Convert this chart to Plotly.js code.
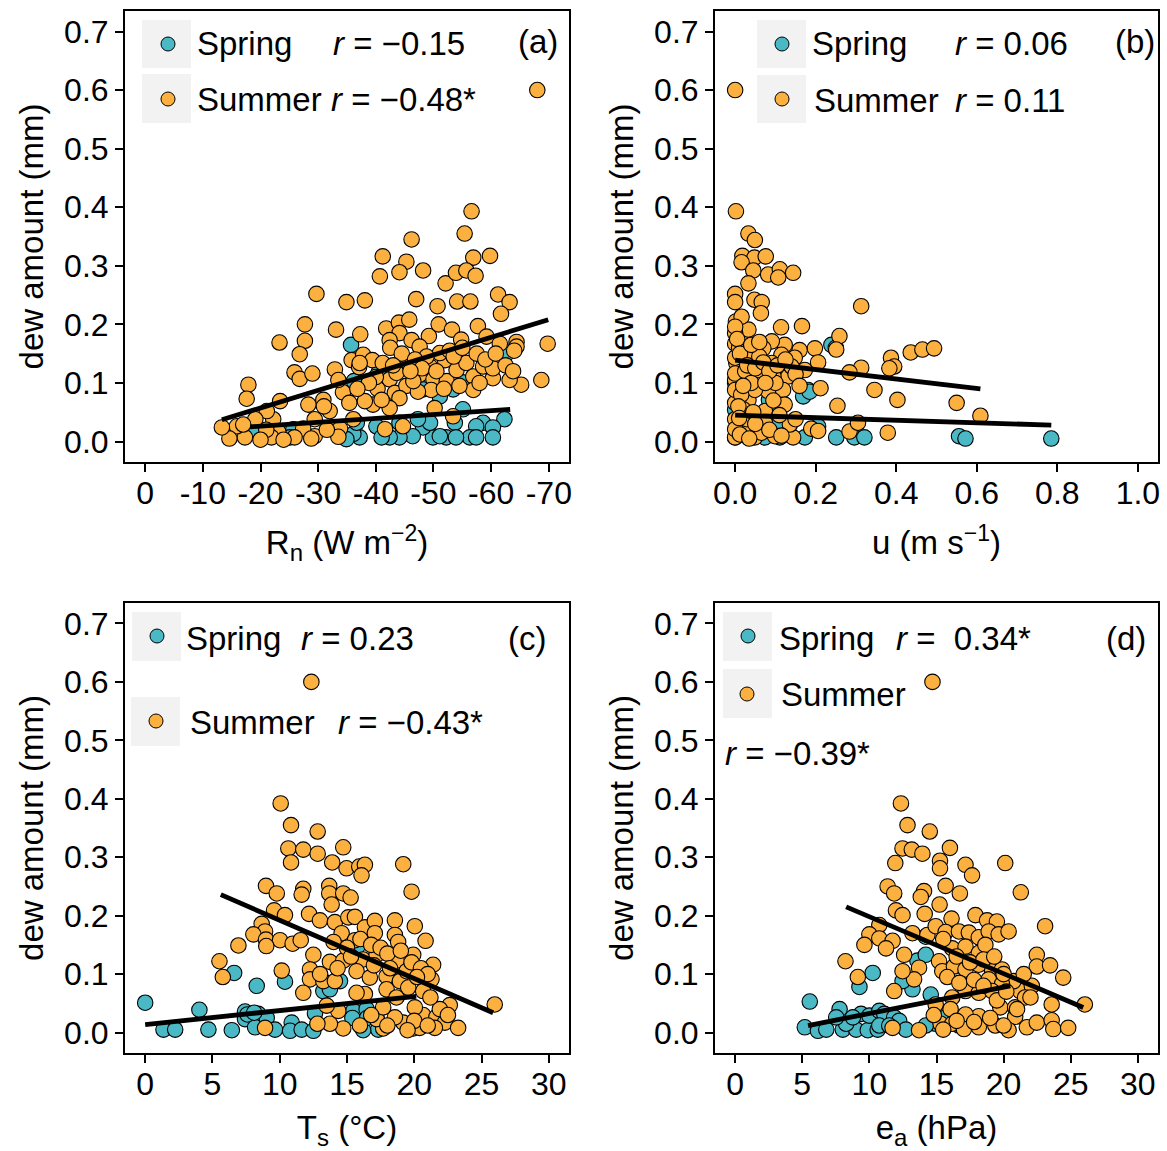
<!DOCTYPE html>
<html><head><meta charset="utf-8">
<script src="https://cdn.plot.ly/plotly-3.0.1.min.js"></script>
<style>html,body{margin:0;padding:0;background:#fff}#chart{width:1167px;height:1151px}</style>
</head><body><div id="chart"></div>
<script>
// ---------- DATA ----------
// Panel (a): net radiation Rn (W m-2) vs dew amount (mm)
const aSpringX = [-35.7,-36.2,-55.1,-53.4,-51.1,-48.2,-55.1,-58.6,-62.3,-60.3,-57.4,-53.7,-52.2,-49.9,-48.2,-46.4,-44.1,-42.4,-40.1,-37.2,-36.1,-34.9,-36.7,-56.3,-60.3,-53.9,-25.7,-25.1,-18.8,-41.0,-49.4,-47.3,-44.1,-57.4,-51.1,-62.5,-40.5];
const aSpringY = [0.165,0.103,0.101,0.089,0.077,0.089,0.055,0.032,0.038,0.024,0.026,0.032,0.007,0.007,0.024,0.009,0.007,0.007,0.026,0.007,0.013,0.004,0.032,0.007,0.007,0.007,0.021,0.007,0.021,0.007,0.032,0.038,0.032,0.007,0.009,0.148,0.118];
const aSummerX = [-56.6,-55.4,-46.2,-41.2,-45.3,-56.9,-59.8,-40.7,-44.1,-48.2,-52.1,-53.9,-55.7,-57.3,-29.7,-34.9,-38.1,-47.0,-50.7,-54.1,-56.4,-61.2,-63.2,-61.7,-27.7,-33.1,-37.3,-23.3,-27.7,-26.8,-41.8,-44.0,-45.8,-44.1,-42.4,-46.2,-49.2,-50.9,-53.2,-54.8,-57.7,-59.2,-61.5,-64.4,-64.4,-69.8,-68.7,-65.2,-63.2,-60.3,-17.9,-17.6,-23.4,-25.9,-26.8,-29.0,-32.9,-35.8,-37.8,-37.1,-39.4,-41.2,-34.3,-35.4,-40.3,-42.4,-43.3,-45.3,-47.6,-49.4,-52.0,-50.0,-52.3,-54.0,-55.7,-56.9,-58.6,-60.3,-56.9,-49.6,-47.3,-44.1,-42.4,-39.5,-38.1,-30.9,-28.3,-32.0,-29.4,-50.2,-53.4,-44.7,-41.6,-36.1,-33.8,-33.5,-29.4,-27.4,-25.9,-23.1,-22.2,-21.9,-21.1,-19.1,-17.3,-15.9,-14.6,-13.3,-17.0,-37.2,-47.6,-51.1,-48.8,-45.6,-43.6,-46.5,-41.0,-68.0,
  -42.5,-44.5,-46.8,-48.0,-50.5,-52.8,-53.5,-55.0,-57.5,-59.0,-60.8,-62.5,-63.8,-64.0,-58.0,-54.5,-51.8,-46.0,-43.0,-40.0,-38.8,-36.8,-33.5,-31.0,-21.0,-24.0,-31.5,-28.8,-20.0];
const aSummerY = [0.393,0.355,0.345,0.316,0.307,0.314,0.317,0.282,0.289,0.292,0.270,0.288,0.292,0.283,0.252,0.238,0.241,0.243,0.231,0.239,0.239,0.251,0.238,0.218,0.200,0.191,0.183,0.169,0.172,0.149,0.193,0.203,0.208,0.185,0.173,0.173,0.180,0.200,0.191,0.174,0.197,0.179,0.167,0.170,0.162,0.167,0.105,0.097,0.105,0.108,0.097,0.073,0.069,0.118,0.107,0.116,0.123,0.139,0.148,0.127,0.139,0.134,0.084,0.066,0.090,0.106,0.083,0.095,0.114,0.128,0.139,0.106,0.103,0.122,0.134,0.111,0.128,0.125,0.088,0.088,0.085,0.074,0.057,0.063,0.069,0.071,0.063,0.052,0.038,0.057,0.043,0.026,0.021,0.038,0.022,0.008,0.009,0.022,0.007,0.016,0.038,0.007,0.052,0.038,0.007,0.026,0.005,0.024,0.029,0.134,0.162,0.151,0.145,0.134,0.117,0.103,0.071,0.600,
  0.160,0.150,0.140,0.125,0.120,0.155,0.145,0.160,0.150,0.140,0.150,0.130,0.120,0.155,0.100,0.095,0.090,0.120,0.130,0.110,0.100,0.090,0.105,0.060,0.020,0.003,0.020,0.005,0.003];
const aFitSpringX = [-18.2,-63.3], aFitSpringY = [0.025,0.055];
const aFitSummerX = [-13.3,-69.9], aFitSummerY = [0.037,0.208];

// Panel (b): wind speed u (m s-1)
const bSpringX = [0.239,0.181,0.169,0.084,0.111,0.173,0.111,0.251,0.296,0.321,0.556,0.572,0.206,0.074,0.033,0.000,0.016,0.058,0.000,0.785,0.185,0.109,0.250,0.000,0.020,0.130,0.090];
const bSpringY = [0.165,0.088,0.077,0.071,0.032,0.007,0.007,0.007,0.007,0.007,0.009,0.005,0.026,0.007,0.007,0.007,0.032,0.038,0.054,0.005,0.085,0.030,0.160,0.100,0.020,0.012,0.050];
const bSummerX = [0.002,0.033,0.049,0.018,0.048,0.076,0.016,0.045,0.082,0.111,0.107,0.144,0.033,0.000,0.000,0.048,0.066,0.064,0.313,0.002,0.003,0.020,0.033,0.114,0.166,0.259,0.251,0.198,0.160,0.123,0.091,0.070,0.115,0.148,0.436,0.465,0.494,0.387,0.395,0.383,0.313,0.284,0.206,0.346,0.403,0.550,0.609,0.254,0.212,0.173,0.132,0.082,0.033,0.000,0.003,0.058,0.095,0.119,0.123,0.074,0.000,0.000,0.033,0.000,0.049,0.144,0.189,0.206,0.136,0.284,0.305,0.379,0.099,0.029,0.029,0.000,0.000,0.049,0.091,0.140,0.150,0.074,0.000,0.000,0.000,0.000,0.016,0.000,0.010,0.025,0.040,0.015,0.060,0.100,0.020,0.045,0.012,0.065,0.110,0.000,
  0.005,0.012,0.030,0.050,0.070,0.085,0.105,0.125,0.150,0.160,0.040,0.060,0.075,0.095,0.020,0.008,0.050,0.085,0.115,0.035,0.010];
const bSummerY = [0.393,0.355,0.344,0.317,0.314,0.316,0.306,0.292,0.285,0.294,0.280,0.288,0.270,0.252,0.238,0.242,0.238,0.219,0.231,0.205,0.191,0.171,0.191,0.195,0.197,0.180,0.157,0.159,0.156,0.165,0.171,0.159,0.148,0.143,0.152,0.157,0.159,0.143,0.128,0.125,0.126,0.118,0.135,0.088,0.071,0.066,0.044,0.061,0.091,0.122,0.111,0.086,0.071,0.105,0.134,0.122,0.111,0.088,0.063,0.052,0.066,0.038,0.026,0.007,0.007,0.007,0.022,0.018,0.029,0.017,0.032,0.015,0.009,0.038,0.146,0.167,0.088,0.088,0.134,0.128,0.038,0.032,0.021,0.116,0.143,0.185,0.213,0.196,0.160,0.120,0.100,0.080,0.145,0.100,0.055,0.050,0.012,0.015,0.045,0.600,
  0.175,0.150,0.130,0.125,0.135,0.120,0.130,0.140,0.115,0.095,0.165,0.170,0.100,0.070,0.095,0.060,0.030,0.020,0.010,0.005,0.040];
const bFitSpringX = [0.0,0.785], bFitSpringY = [0.045,0.028];
const bFitSummerX = [0.0,0.609], bFitSummerY = [0.139,0.090];

// Panel (c): soil temperature Ts (°C)
const cSpringX = [0.00,1.36,2.23,4.03,4.70,6.44,6.61,8.29,7.42,7.42,8.41,9.03,8.17,9.65,10.39,10.89,10.77,11.63,12.50,12.62,13.24,13.73,14.48,15.47,16.46,17.20,17.32,16.20,15.80,15.40,16.50,7.60,8.10];
const cSpringY = [0.051,0.005,0.005,0.039,0.005,0.004,0.102,0.080,0.036,0.023,0.032,0.025,0.009,0.005,0.087,0.017,0.003,0.005,0.003,0.033,0.071,0.074,0.088,0.037,0.040,0.026,0.005,0.004,0.148,0.025,0.025,0.031,0.034];
const cSummerX = [10.07,10.84,12.82,10.64,11.75,12.82,14.72,10.84,13.90,14.97,15.91,16.33,16.08,19.18,8.98,9.78,11.75,11.63,13.68,13.68,14.72,15.27,13.86,19.80,9.58,10.39,8.66,8.91,8.04,8.98,10.02,9.00,6.93,5.52,5.77,10.15,10.96,11.56,12.18,12.99,14.10,15.10,15.59,16.33,17.07,18.56,20.04,20.84,14.60,15.59,17.07,18.56,18.80,12.50,13.73,14.72,16.20,17.20,18.68,19.92,21.40,12.25,12.25,13.24,14.10,15.71,16.70,17.94,18.93,19.43,21.28,20.66,19.55,17.94,16.33,15.71,11.75,18.68,22.64,25.98,20.66,21.65,22.27,23.26,21.53,20.04,19.18,17.69,15.96,14.72,13.73,14.35,13.49,18.56,17.20,8.91,19.92,20.40,21.90,17.69,12.35,
  14.0,15.0,16.0,16.8,17.5,18.0,19.0,19.8,20.5,21.0,20.2,18.2,17.0,15.3,14.3,13.0,21.2,20.0,18.0,16.8,21.0,19.5,22.5,12.8];
const cSummerY = [0.392,0.355,0.344,0.315,0.313,0.306,0.317,0.291,0.291,0.281,0.284,0.287,0.269,0.288,0.251,0.238,0.246,0.236,0.251,0.238,0.238,0.231,0.219,0.241,0.209,0.201,0.186,0.173,0.168,0.159,0.158,0.148,0.149,0.122,0.095,0.106,0.152,0.158,0.203,0.192,0.189,0.197,0.198,0.180,0.191,0.192,0.182,0.157,0.170,0.158,0.170,0.167,0.155,0.133,0.121,0.123,0.125,0.133,0.123,0.133,0.116,0.108,0.091,0.088,0.088,0.105,0.094,0.096,0.088,0.105,0.091,0.071,0.077,0.074,0.066,0.068,0.068,0.060,0.047,0.048,0.030,0.027,0.017,0.008,0.008,0.043,0.017,0.007,0.012,0.007,0.015,0.037,0.046,0.026,0.023,0.008,0.007,0.008,0.040,0.043,0.600,
  0.155,0.145,0.160,0.150,0.145,0.135,0.140,0.120,0.110,0.100,0.095,0.110,0.115,0.130,0.110,0.100,0.060,0.020,0.012,0.030,0.012,0.004,0.030,0.015];
const cFitSpringX = [0.0,20.15], cFitSpringY = [0.0136,0.062];
const cFitSummerX = [5.62,25.86], cFitSummerY = [0.236,0.034];

// Panel (d): vapour pressure ea (hPa)
const dSpringX = [5.56,5.19,6.17,6.79,7.78,8.02,9.01,9.88,10.62,9.26,10.25,9.38,10.00,10.74,11.11,11.85,12.22,12.72,13.21,12.47,13.58,14.20,14.57,14.94,16.67,15.68,14.20,14.20,10.74,11.48,8.27,8.77,7.53];
const dSpringY = [0.053,0.009,0.003,0.005,0.040,0.005,0.005,0.004,0.005,0.078,0.102,0.032,0.029,0.037,0.032,0.026,0.020,0.005,0.074,0.088,0.123,0.133,0.065,0.015,0.012,0.026,0.164,0.012,0.012,0.012,0.015,0.026,0.026];
const dSummerX = [12.35,12.84,14.50,12.47,13.16,13.95,16.00,11.93,15.26,15.26,17.16,17.65,20.12,11.36,11.85,14.07,13.83,15.68,16.74,21.28,15.23,11.98,12.47,14.12,16.12,17.90,18.77,19.50,23.09,10.74,10.00,10.74,11.73,9.63,11.24,12.59,13.21,14.32,14.94,15.68,16.67,17.41,18.15,18.89,19.63,20.37,16.17,17.16,18.15,18.64,15.19,15.43,16.30,17.16,18.15,19.14,19.88,13.70,13.33,12.47,11.85,8.22,9.14,22.47,22.47,23.46,24.44,26.05,21.23,22.10,21.60,20.74,18.89,19.88,17.16,18.15,19.14,16.17,14.94,19.75,20.86,18.15,17.16,16.05,15.31,16.17,17.04,18.15,19.38,20.37,21.73,22.47,23.58,23.70,24.81,13.70,11.73,20.86,23.58,14.70,
  15.5,16.5,17.5,18.5,19.3,20.0,15.8,16.7,17.8,18.5,19.5,20.2,21.0,16.5,17.8,19.0,20.0,15.5,14.8,22.0,21.5];
const dSummerY = [0.392,0.355,0.344,0.315,0.313,0.306,0.316,0.290,0.294,0.281,0.287,0.269,0.290,0.250,0.238,0.242,0.232,0.251,0.238,0.240,0.219,0.209,0.201,0.203,0.195,0.201,0.192,0.190,0.182,0.184,0.168,0.161,0.157,0.150,0.144,0.133,0.170,0.167,0.182,0.172,0.173,0.171,0.163,0.173,0.168,0.173,0.144,0.147,0.136,0.150,0.122,0.105,0.113,0.108,0.116,0.105,0.108,0.111,0.091,0.105,0.071,0.122,0.095,0.133,0.113,0.115,0.094,0.048,0.071,0.080,0.060,0.088,0.091,0.083,0.071,0.068,0.071,0.060,0.048,0.043,0.027,0.028,0.031,0.040,0.015,0.015,0.006,0.009,0.012,0.004,0.009,0.017,0.021,0.006,0.008,0.004,0.008,0.043,0.048,0.600,
  0.160,0.130,0.120,0.125,0.130,0.100,0.095,0.085,0.090,0.080,0.055,0.070,0.040,0.020,0.018,0.025,0.012,0.005,0.030,0.060,0.100];
const dFitSpringX = [5.43,20.5], dFitSpringY = [0.012,0.080];
const dFitSummerX = [8.27,25.93], dFitSummerY = [0.215,0.043];

// Tick labels
const yTickVals = [0,0.1,0.2,0.3,0.4,0.5,0.6,0.7];
const aTickVals = [0,-10,-20,-30,-40,-50,-60,-70];
const aTickText = ["0","-10","-20","-30","-40","-50","-60","-70"];
const bTickVals = [0,0.2,0.4,0.6,0.8,1.0];
const cdTickVals = [0,5,10,15,20,25,30];

// Legend / annotation texts
const rTexts = {
  a: ["<i>r</i> = \u22120.15", "<i>r</i> = \u22120.48*"],
  b: ["<i>r</i> = 0.06", "<i>r</i> = 0.11"],
  c: ["<i>r</i> = 0.23", "<i>r</i> = \u22120.43*"],
  d: ["<i>r</i> =\u00a0 0.34*", "<i>r</i> = \u22120.39*"]
};

// ---------- STYLE / LAYOUT ----------
const W = 1167, H = 1151;
const SPRING = '#4BB8C5', SUMMER = '#FBB040';
const FONT = 'Liberation Sans, Arial, sans-serif';
const FS = 32, FS_TXT = 33;
const px = x => x / W, py = y => 1 - y / H;
const SUB = s => '<span style="font-size:24px;baseline-shift:-7px">' + s + '</span>';
const SUP = s => '<span style="font-size:23px;baseline-shift:13px">' + s + '</span>';

function pts(x, y, color, xa, ya) {
  return {x, y, xaxis: xa, yaxis: ya, type: 'scatter', mode: 'markers', showlegend: false, hoverinfo: 'skip',
    marker: {size: 15.5, color, line: {color: '#000', width: 1.1}}};
}
function fit(x, y, xa, ya) {
  return {x, y, xaxis: xa, yaxis: ya, type: 'scatter', mode: 'lines', showlegend: false, hoverinfo: 'skip',
    line: {color: '#000', width: 4.8}};
}
const traces = [
  pts(aSpringX, aSpringY, SPRING, 'x', 'y'), pts(aSummerX, aSummerY, SUMMER, 'x', 'y'),
  fit(aFitSpringX, aFitSpringY, 'x', 'y'), fit(aFitSummerX, aFitSummerY, 'x', 'y'),
  pts(bSpringX, bSpringY, SPRING, 'x2', 'y2'), pts(bSummerX, bSummerY, SUMMER, 'x2', 'y2'),
  fit(bFitSpringX, bFitSpringY, 'x2', 'y2'), fit(bFitSummerX, bFitSummerY, 'x2', 'y2'),
  pts(cSpringX, cSpringY, SPRING, 'x3', 'y3'), pts(cSummerX, cSummerY, SUMMER, 'x3', 'y3'),
  fit(cFitSpringX, cFitSpringY, 'x3', 'y3'), fit(cFitSummerX, cFitSummerY, 'x3', 'y3'),
  pts(dSpringX, dSpringY, SPRING, 'x4', 'y4'), pts(dSummerX, dSummerY, SUMMER, 'x4', 'y4'),
  fit(dFitSpringX, dFitSpringY, 'x4', 'y4'), fit(dFitSummerX, dFitSummerY, 'x4', 'y4')
];

function axisBase(domain, anchor, extra) {
  return Object.assign({
    domain, anchor, showline: true, mirror: true, linecolor: '#000', linewidth: 2,
    ticks: 'outside', ticklen: 8, tickwidth: 2, tickcolor: '#000',
    showgrid: false, zeroline: false, fixedrange: true,
    tickfont: {family: FONT, size: FS, color: '#000'}
  }, extra);
}
const xLeft = [px(125), px(569)], xRight = [px(715), px(1158)];
const yTop = [py(462), py(11)], yBot = [py(1053), py(603)];
const yTitle = {text: 'dew amount (mm)', font: {family: FONT, size: FS_TXT, color: '#000'}, standoff: 11};
function xt(t) { return {text: t, font: {family: FONT, size: FS_TXT, color: '#000'}, standoff: 20}; }
function yAx(domain, anchor) {
  return axisBase(domain, anchor, {range: [-0.035, 0.735], tickvals: yTickVals, tickformat: '.1f', title: yTitle});
}
function xAx(domain, anchor, extra) {
  return axisBase(domain, anchor, Object.assign({ticklabelstandoff: -6}, extra));
}

const layout = {
  width: W, height: H, margin: {l: 0, r: 0, t: 0, b: 0},
  paper_bgcolor: '#fff', plot_bgcolor: '#fff', showlegend: false,
  font: {family: FONT, color: '#000', size: FS},
  xaxis: xAx(xLeft, 'y', {range: [3.5, -73.5], tickvals: aTickVals, ticktext: aTickText, title: xt('R' + SUB('n') + ' (W m' + SUP('\u22122') + ')')}),
  yaxis: yAx(yTop, 'x'),
  xaxis2: xAx(xRight, 'y2', {range: [-0.05, 1.05], tickvals: bTickVals, tickformat: '.1f', title: xt('u (m s' + SUP('\u22121') + ')')}),
  yaxis2: yAx(yTop, 'x2'),
  xaxis3: xAx(xLeft, 'y3', {range: [-1.5, 31.5], tickvals: cdTickVals, title: xt('T' + SUB('s') + ' (\u00b0C)')}),
  yaxis3: yAx(yBot, 'x3'),
  xaxis4: xAx(xRight, 'y4', {range: [-1.5, 31.5], tickvals: cdTickVals, title: xt('e' + SUB('a') + ' (hPa)')}),
  yaxis4: yAx(yBot, 'x4'),
  shapes: [], annotations: []
};

function keyBox(x0, y0, x1, y1) {
  layout.shapes.push({type: 'rect', xref: 'paper', yref: 'paper', x0: px(x0), x1: px(x1), y0: py(y1), y1: py(y0),
    fillcolor: '#F2F2F2', line: {width: 0}, layer: 'below'});
}
function keyDot(cx, cy, color) {
  const r = 7;
  layout.shapes.push({type: 'circle', xref: 'paper', yref: 'paper', x0: px(cx - r), x1: px(cx + r), y0: py(cy + r), y1: py(cy - r),
    fillcolor: color, line: {color: '#000', width: 1}, layer: 'above'});
}
function txt(t, x, y, anchor) {
  layout.annotations.push({text: t, xref: 'paper', yref: 'paper', x: px(x), y: py(y), xanchor: anchor || 'left', yanchor: 'middle',
    showarrow: false, font: {family: FONT, size: FS_TXT, color: '#000'}});
}

// Panel a legend
keyBox(142, 20, 191, 68); keyBox(142, 74, 191, 123);
keyDot(168, 44, SPRING); keyDot(168, 99, SUMMER);
txt('Spring', 195, 44); txt(rTexts.a[0], 331, 44);
txt('Summer', 195, 99); txt(rTexts.a[1], 329, 99);
txt('(a)', 560, 42, 'right');
// Panel b legend
keyBox(757, 20, 806, 68); keyBox(757, 75, 806, 123);
keyDot(782, 44, SPRING); keyDot(782, 99, SUMMER);
txt('Spring', 810, 44); txt(rTexts.b[0], 953, 44);
txt('Summer', 812, 100); txt(rTexts.b[1], 953, 100);
txt('(b)', 1157, 42, 'right');
// Panel c legend
keyBox(132, 612, 181, 661); keyBox(131, 697, 180, 746);
keyDot(157, 636, SPRING); keyDot(156, 721, SUMMER);
txt('Spring', 184, 638); txt(rTexts.c[0], 299, 638);
txt('Summer', 188, 722); txt(rTexts.c[1], 336, 722);
txt('(c)', 548, 638, 'right');
// Panel d legend
keyBox(723, 612, 772, 661); keyBox(723, 669, 772, 718);
keyDot(748, 636, SPRING); keyDot(747, 694, SUMMER);
txt('Spring', 777, 638); txt(rTexts.d[0], 894, 638);
txt('Summer', 779, 694); txt(rTexts.d[1], 723, 753);
txt('(d)', 1148, 638, 'right');

Plotly.newPlot('chart', traces, layout, {displayModeBar: false, staticPlot: true});
</script></body></html>
